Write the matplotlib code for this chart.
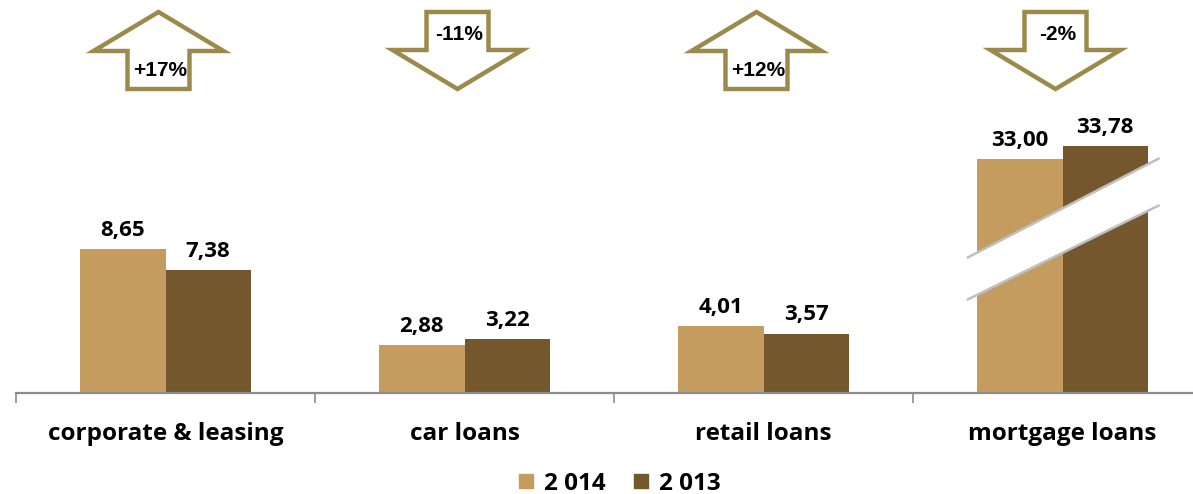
import numpy as np
import matplotlib
matplotlib.use("Agg")
import matplotlib.pyplot as plt
from matplotlib.patches import Polygon
from matplotlib.lines import Line2D

categories = ["corporate & leasing", "car loans", "retail loans", "mortgage loans"]
vals_2014 = [8.65, 2.88, 4.01, 33.00]
vals_2013 = [7.38, 3.22, 3.57, 33.78]
series_names = ["2 014", "2 013"]

# mortgage bars are drawn on a broken axis: shift them down by this amount
BREAK_CAT = 3
BREAK_OFFSET = 18.95

C14 = "#C49C60"
C13 = "#74572C"
ARROW = "#9C8A4C"
AXIS_GREY = "#8C8C8C"
FONT = ["Open Sans", "DejaVu Sans"]

W, H = 1193, 494
fig = plt.figure(figsize=(W / 100, H / 100), dpi=100)

px_per_cat = 299
px_per_unit = 16.65
base_px = 393
ax = fig.add_axes([16 / W, (H - base_px) / H, 4 * px_per_cat / W, base_px / H])
ax.set_xlim(-0.5, 3.5)
ax.set_ylim(0, base_px / px_per_unit)

x = np.arange(len(categories))
bw = 0.285


def shown(v, i):
    return v - BREAK_OFFSET if i == BREAK_CAT else v


h14 = [shown(v, i) for i, v in enumerate(vals_2014)]
h13 = [shown(v, i) for i, v in enumerate(vals_2013)]
ax.bar(x - bw / 2, h14, bw, color=C14, zorder=2)
ax.bar(x + bw / 2, h13, bw, color=C13, zorder=2)

lab_font = dict(family=FONT, weight="bold", size=16, color="black")
for i in range(len(categories)):
    ax.annotate(f"{vals_2014[i]:.2f}".replace(".", ","), (x[i] - bw / 2, h14[i]),
                xytext=(0, 6), textcoords="offset points", ha="center", va="bottom", **lab_font)
    ax.annotate(f"{vals_2013[i]:.2f}".replace(".", ","), (x[i] + bw / 2, h13[i]),
                xytext=(0, 6), textcoords="offset points", ha="center", va="bottom", **lab_font)

# axis break band on the mortgage bars
bx0, bx1 = BREAK_CAT - 0.32, BREAK_CAT + 0.325
up = ([bx0, bx1], [8.11, 14.11])
lo = ([bx0, bx1], [5.59, 11.29])
ax.add_patch(Polygon([(up[0][0], up[1][0]), (up[0][1], up[1][1]),
                      (lo[0][1], lo[1][1]), (lo[0][0], lo[1][0])],
                     closed=True, facecolor="white", edgecolor="none", zorder=3))
ax.plot(*up, color="#BFBFBF", lw=1.8, zorder=4, solid_capstyle="butt")
ax.plot(*lo, color="#BFBFBF", lw=1.8, zorder=4, solid_capstyle="butt")

for s in ["top", "right", "left"]:
    ax.spines[s].set_visible(False)
ax.spines["bottom"].set_color(AXIS_GREY)
ax.spines["bottom"].set_linewidth(1.6)
ax.set_yticks([])
ax.set_xticks([-0.5, 0.5, 1.5, 2.5, 3.5])
ax.set_xticklabels([])
ax.tick_params(axis="x", length=7, width=1.2, color=AXIS_GREY, direction="out")
for i, c in enumerate(categories):
    ax.text(x[i], -0.105, c, transform=ax.get_xaxis_transform(), ha="center", va="center",
            family=FONT, weight="bold", size=17.5)

# change arrows, drawn in figure pixels
ov = fig.add_axes([0, 0, 1, 1])
ov.set_xlim(0, W)
ov.set_ylim(H, 0)
ov.axis("off")
ov.patch.set_alpha(0)

head_w, shaft_w = 130, 62
for i in range(len(categories)):
    chg = vals_2014[i] / vals_2013[i] - 1
    cx = 16 + px_per_cat * (i + 0.5) - 7
    top, bot = 12, 89
    if chg >= 0:
        hb = top + 39
        pts = [(cx, top), (cx + head_w / 2, hb), (cx + shaft_w / 2, hb), (cx + shaft_w / 2, bot),
               (cx - shaft_w / 2, bot), (cx - shaft_w / 2, hb), (cx - head_w / 2, hb)]
        ty = 71
    else:
        hb = top + 38
        pts = [(cx - shaft_w / 2, top), (cx + shaft_w / 2, top), (cx + shaft_w / 2, hb),
               (cx + head_w / 2, hb), (cx, bot), (cx - head_w / 2, hb), (cx - shaft_w / 2, hb)]
        ty = 34
    ov.add_patch(Polygon(pts, closed=True, facecolor="white", edgecolor=ARROW, lw=3.2,
                         joinstyle="miter"))
    ov.text(cx + 2, ty, f"{chg * 100:+.0f}%", ha="center", va="center",
            family=["Liberation Sans", "DejaVu Sans"], weight="bold", size=15)

handles = [Line2D([], [], marker="s", ls="", markersize=10.5, color=C14),
           Line2D([], [], marker="s", ls="", markersize=10.5, color=C13)]
fig.legend(handles, series_names, loc="center", bbox_to_anchor=(619 / W, 1 - 484 / H),
           ncol=2, frameon=False, handlelength=0.7, handletextpad=0.4, columnspacing=1.1,
           prop=dict(family=FONT, weight="bold", size=17.5))

fig.savefig("out.png", dpi=100)
